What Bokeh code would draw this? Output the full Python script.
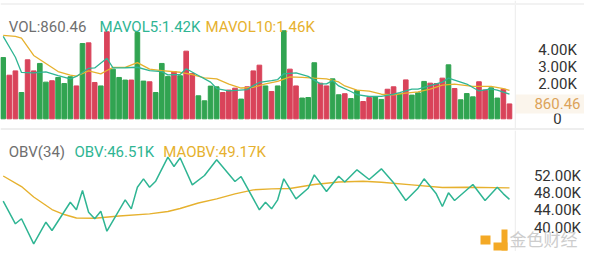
from bokeh.plotting import figure
from bokeh.layouts import column
from bokeh.models import (ColumnDataSource, Range1d, Span, Label, BoxAnnotation)
from bokeh.core.properties import value
from bokeh.embed import file_html
from bokeh.resources import INLINE

# ---------------- data (volumes in K) ----------------
vol = [3.54, 2.52, 2.77, 1.52, 3.41, 2.77, 3.20, 2.12, 2.20, 2.39,
       2.04, 2.43, 1.90, 4.35, 4.39, 2.10, 1.90, 5.03, 2.87, 2.39,
       2.24, 2.24, 4.99, 2.18, 2.14, 1.52, 3.20, 2.45, 2.73, 2.49,
       3.91, 2.62, 1.33, 1.04, 1.89, 1.85, 1.52, 1.66, 1.77, 1.14,
       1.85, 2.77, 3.10, 1.90, 1.58, 1.90, 5.09, 2.87, 1.90, 1.20,
       1.23, 3.24, 2.06, 1.90, 2.31, 1.39, 1.45, 1.17, 1.64, 1.00,
       1.23, 1.29, 1.12, 1.71, 1.85, 1.43, 2.25, 1.37, 1.50, 2.16,
       2.06, 2.04, 2.35, 3.12, 1.75, 1.10, 1.46, 1.27, 2.14, 1.66,
       1.79, 1.20, 1.71, 0.86046]
direction = "GRRGRRGGRGGGRGRRGRGGGRGGRGGGRGRRGGGGRRRGRRRGRGGRRGGGRRGGRGGRRGGRRGRGGGRRRGRGGGRRGGRR"

mavol5_idx = [0, 2, 3, 5, 7, 9, 11, 12, 14, 15, 17, 18, 20, 22, 24, 26, 27, 29, 30, 32,
              34, 35, 37, 40, 41, 42, 44, 45, 46, 48, 50, 52, 53, 54, 55, 57, 58, 60, 62, 64,
              65, 67, 68, 70, 72, 73, 74, 76, 78, 80, 81, 83]
mavol5 = [4.76, 3.56, 2.68, 2.65, 2.71, 2.50, 2.31, 2.45, 2.92, 2.94, 3.50, 2.94, 2.95, 2.98, 2.79, 2.73, 2.54, 2.56, 2.89, 2.50,
          2.12, 1.75, 1.61, 1.69, 1.92, 2.10, 2.21, 2.27, 2.60, 2.65, 2.45, 2.02, 2.02, 2.21, 1.90, 1.58, 1.40, 1.29, 1.30, 1.43,
          1.52, 1.72, 1.71, 1.92, 2.12, 2.35, 2.24, 2.01, 1.61, 1.73, 1.66, 1.42]

mavol10_idx = [0, 2, 3, 5, 7, 9, 11, 12, 14, 16, 17, 18, 20, 22, 24, 26, 29, 31, 33, 35,
               37, 39, 41, 43, 45, 47, 49, 51, 53, 55, 56, 58, 60, 62, 64, 66, 68, 70, 72, 74,
               77, 80, 82, 83]
mavol10 = [4.82, 4.77, 4.67, 3.66, 3.20, 2.73, 2.53, 2.47, 2.77, 2.60, 2.79, 2.97, 2.97, 3.25, 2.87, 2.78, 2.69, 2.56, 2.37, 2.31,
           2.01, 1.78, 1.82, 2.02, 2.16, 2.42, 2.40, 2.35, 2.31, 2.13, 1.90, 1.66, 1.60, 1.42, 1.38, 1.49, 1.56, 1.71, 1.95, 2.01,
           1.87, 1.87, 1.75, 1.64]

obv_idx = [0, 2, 3, 5, 7, 8, 11, 12, 13, 14, 15, 16, 17, 20, 21, 22, 23, 24, 25, 27,
           28, 29, 31, 33, 35, 38, 39, 42, 43, 44, 45, 46, 48, 50, 51, 53, 55, 56, 58, 60,
           62, 64, 66, 68, 69, 71, 72, 73, 74, 77, 79, 81, 82, 83]
obv = [46.09, 40.90, 42.05, 36.30, 41.26, 39.36, 45.86, 44.11, 48.55, 43.56, 42.05, 43.79, 39.19, 46.41, 44.34, 49.31, 51.24, 49.31, 50.69, 56.21,
       54.07, 56.07, 49.86, 52.00, 55.61, 50.62, 51.77, 44.11, 45.86, 44.34, 46.41, 51.24, 46.64, 49.08, 52.16, 48.32, 51.84, 50.51, 53.31, 51.08,
       53.54, 50.32, 46.25, 49.08, 51.24, 47.79, 44.87, 48.02, 46.25, 49.93, 46.25, 49.31, 47.79, 46.51]

maobv_idx = [0, 3, 5, 8, 10, 12, 15, 19, 24, 27, 29, 32, 35, 38, 41, 44, 47, 51, 55, 59, 62, 67, 72, 76, 83]
maobv = [51.89, 49.47, 47.06, 44.18, 43.03, 42.23, 42.18, 42.69, 43.19, 43.72, 44.41, 45.68, 46.64, 47.79, 48.71,
         48.94, 49.01, 49.93, 50.51, 50.69, 50.46, 49.86, 49.24, 49.29, 49.17]

vol_ticks = [0, 2, 3, 4]
vol_tick_labels = ["0", "2.00K", "3.00K", "4.00K"]
obv_ticks = [40, 44, 48, 52]
obv_tick_labels = ["40.00K", "44.00K", "48.00K", "52.00K"]

vol_legend = ["VOL:860.46", "MAVOL5:1.42K", "MAVOL10:1.46K"]
obv_legend = ["OBV(34)", "OBV:46.51K", "MAOBV:49.17K"]

# ---------------- styles ----------------
GREEN = "#31a451"
RED = "#d9435a"
TEAL = "#2fb593"
YELLOW = "#e6b12e"
GREY_TXT = "#6f6f6f"
FONT = "Roboto"
FS = "15px"
X0, X1 = -0.443, 95.30      # index range across the full canvas
LABEL_X = 90.87             # centre of the right-hand price column
DIVIDER_X = 83.95

colors = [GREEN if d == "G" else RED for d in direction]
src = ColumnDataSource(dict(x=list(range(len(vol))), top=vol, color=colors))


def base_fig(h, yr):
    p = figure(width=584, height=h, x_range=Range1d(X0, X1), y_range=yr,
               output_backend="svg", toolbar_location=None,
               x_axis_location=None, y_axis_location=None,
               min_border_left=0, min_border_right=0, min_border_top=0, min_border_bottom=0)
    p.grid.visible = False
    p.outline_line_color = None
    p.background_fill_color = "white"
    p.border_fill_color = "white"
    return p


def price_labels(p, ticks, labels):
    p.text(x=[LABEL_X] * len(ticks), y=ticks, text=labels,
           text_font=value(FONT), text_font_size=FS, text_color="#333333",
           text_align="center", text_baseline="middle")


# ---------------- volume panel ----------------
p1 = base_fig(130, Range1d(-0.676, 6.838))
p1.add_layout(Span(location=DIVIDER_X, dimension="height", line_color="#ebebeb", line_width=1))
p1.add_layout(Span(location=6.63, dimension="width", line_color="#f2f2f2", line_width=2))
p1.add_layout(Span(location=-0.62, dimension="width", line_color="#eeeeee", line_width=3))
p1.vbar(x="x", top="top", bottom=0, width=0.76, color="color", source=src)
p1.line(mavol10_idx, mavol10, line_color=YELLOW, line_width=1.3)
p1.line(mavol5_idx, mavol5, line_color=TEAL, line_width=1.3)
price_labels(p1, vol_ticks, vol_tick_labels)
p1.rect(x=[LABEL_X], y=[vol[-1]], width=84, height=19, width_units="screen", height_units="screen",
        fill_color="#fbf5ec", line_color=None)
p1.text(x=[LABEL_X], y=[vol[-1]], text=[f"{vol[-1]*1000:.2f}"],
        text_font=value(FONT), text_font_size=FS, text_color="#dca35a",
        text_align="center", text_baseline="middle")
for xs, txt, col in zip([8.3, 99, 205], vol_legend, [GREY_TXT, TEAL, YELLOW]):
    p1.add_layout(Label(x=xs, y=103.3, x_units="screen", y_units="screen", text=txt,
                        text_font=FONT, text_font_size=FS, text_color=col,
                        text_baseline="alphabetic"))

# ---------------- OBV panel ----------------
p2 = base_fig(121, Range1d(34.53, 62.35))
p2.add_layout(Span(location=DIVIDER_X, dimension="height", line_color="#ebebeb", line_width=1))
p2.line(maobv_idx, maobv, line_color=YELLOW, line_width=1.4)
p2.line(obv_idx, obv, line_color=TEAL, line_width=1.5)
price_labels(p2, obv_ticks, obv_tick_labels)
for xs, txt, col in zip([8.3, 74, 162.7], obv_legend, [GREY_TXT, TEAL, YELLOW]):
    p2.add_layout(Label(x=xs, y=99.3, x_units="screen", y_units="screen", text=txt,
                        text_font=FONT, text_font_size=FS, text_color=col,
                        text_baseline="alphabetic"))

# watermark (logo + name)
for l, r, b, t in [(480, 490, 7, 16), (501, 507, 1, 22), (493, 507, 1, 9)]:
    p2.add_layout(BoxAnnotation(left=l, right=r, bottom=b, top=t,
                                left_units="screen", right_units="screen",
                                bottom_units="screen", top_units="screen",
                                fill_color="#f4a925", fill_alpha=1, line_color=None))
p2.add_layout(Label(x=509, y=13, x_units="screen", y_units="screen", text="金色财经",
                    text_font="Noto Sans CJK SC", text_font_size="17px",
                    text_color="#cdcdcd", text_baseline="middle"))

layout = column(p1, p2, spacing=0)
open("out.html", "w").write(file_html(layout, INLINE))
